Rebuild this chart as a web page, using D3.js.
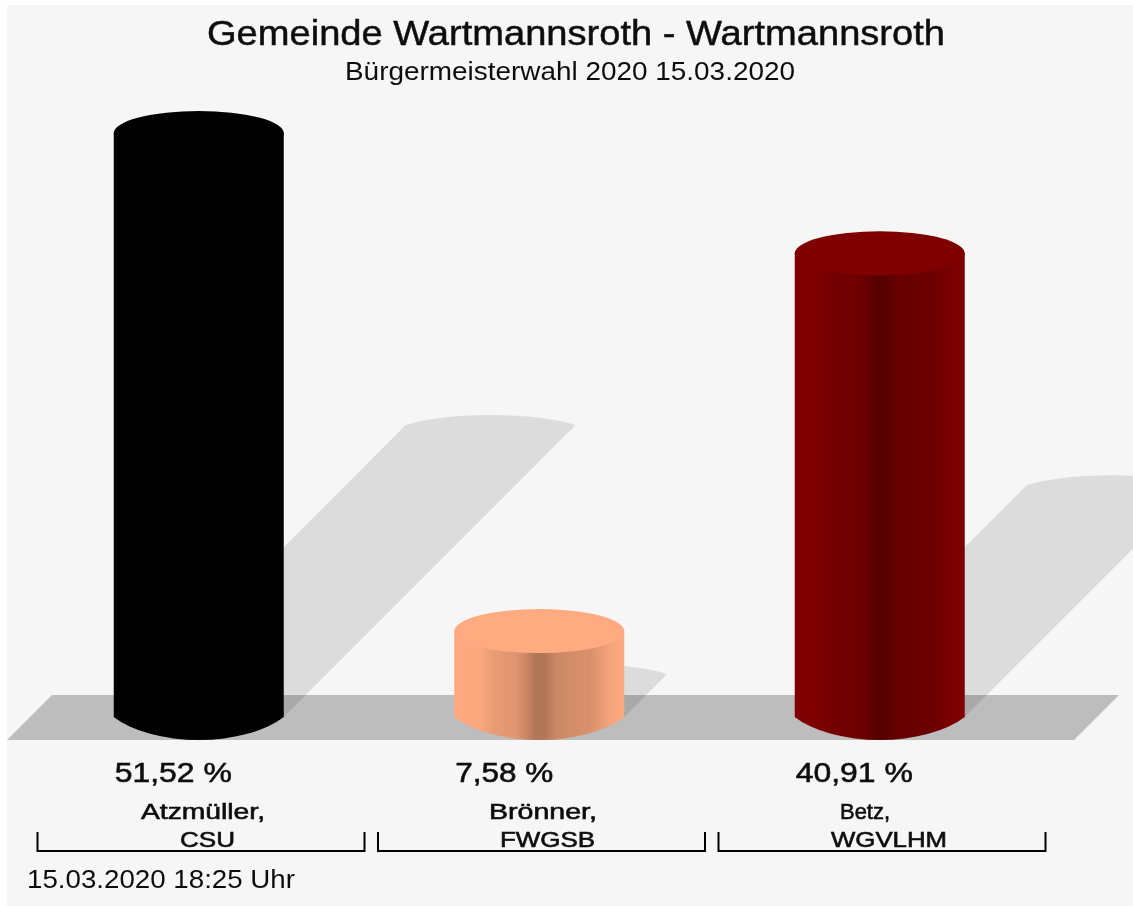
<!DOCTYPE html>
<html>
<head>
<meta charset="utf-8">
<script src="https://cdn.jsdelivr.net/npm/d3@7"></script>
<style>
  body { margin: 0; background: #fff; }
  text { font-family: "Liberation Sans", Arial, sans-serif; fill: #111; stroke: #111; }
</style>
</head>
<body>
<div id="vis"></div>
<script>
const FRAME_WIDTH = 1133;
const FRAME_HEIGHT = 906;

// data
const candidates = ["Atzmüller,", "Brönner,", "Betz,"];
const parties = ["CSU", "FWGSB", "WGVLHM"];
const shares = [51.52, 7.58, 40.91];
const colors = ["#000000", "#ffaa80", "#800000"];
const titleText = "Gemeinde Wartmannsroth - Wartmannsroth";
const subtitleText = "Bürgermeisterwahl 2020 15.03.2020";
const footerText = "15.03.2020 18:25 Uhr";

const BASE_Y = 717;
const BAR_WIDTH = 170;

const X_SCALE = d3.scaleBand()
                    .domain(candidates)
                    .range([28.5, 1050]);

const Y_SCALE = d3.scaleLinear()
                    .domain([0, 60])
                    .range([BASE_Y, 37]);

const barLeft = (d) => X_SCALE(d) + X_SCALE.bandwidth() / 2 - BAR_WIDTH / 2;

const FRAME = d3.select("#vis")
                  .append("svg")
                    .attr("width", FRAME_WIDTH)
                    .attr("height", FRAME_HEIGHT)
                    .style("display", "block");

FRAME.append("rect")
      .attr("x", 7).attr("y", 5)
      .attr("width", FRAME_WIDTH - 7).attr("height", FRAME_HEIGHT - 5)
      .attr("fill", "#f6f6f6");

// cylinder body shading, darkest just left of the middle
const defs = FRAME.append("defs");
const shadeStops = [[0, 0], [0.15, 0.02], [0.24, 0.09], [0.36, 0.12], [0.42, 0.2], [0.48, 0.31], [0.54, 0.3], [0.6, 0.2], [0.8, 0.15], [0.92, 0.04], [1, 0]];
colors.forEach((c, i) => {
  defs.append("linearGradient")
        .attr("id", "body" + i)
      .selectAll("stop")
      .data(shadeStops)
      .enter()
      .append("stop")
        .attr("offset", (d) => d[0])
        .attr("stop-color", (d) => d3.interpolateRgb(c, "#000")(d[1]));
});
defs.append("filter")
      .attr("id", "soft")
      .attr("filterUnits", "userSpaceOnUse")
      .attr("x", 0).attr("y", 0)
      .attr("width", FRAME_WIDTH).attr("height", FRAME_HEIGHT)
    .append("feGaussianBlur")
      .attr("stdDeviation", 0.6);

const CHART = FRAME.append("g").attr("filter", "url(#soft)");

// floor
CHART.append("path")
      .attr("d", "M7,740 L52,695 L1119,695 L1074,740 Z")
      .attr("fill", "#bdbdbd");

// shadows fall up and to the right, half the bar height
const shadowPath = (v, i) => {
  const x0 = barLeft(candidates[i]);
  const shift = (BASE_Y - Y_SCALE(v)) / 2;
  return `M${x0},${BASE_Y} L${x0 + shift},${BASE_Y - shift}
          A100,21 0 0 1 ${x0 + BAR_WIDTH + shift},${BASE_Y - shift}
          L${x0 + BAR_WIDTH},${BASE_Y} Z`;
};

CHART.selectAll(".shadow")
      .data(shares)
      .enter()
      .append("path")
        .attr("class", "shadow")
        .attr("d", shadowPath)
        .attr("fill", "#000")
        .attr("fill-opacity", 0.105);

// cylinders
CHART.selectAll(".bar")
      .data(shares)
      .enter()
      .append("path")
        .attr("class", "bar")
        .attr("d", (v, i) => {
          const x0 = barLeft(candidates[i]);
          return `M${x0},${Y_SCALE(v)} L${x0},${BASE_Y}
                  A100,48.6 0 0 0 ${x0 + BAR_WIDTH},${BASE_Y}
                  L${x0 + BAR_WIDTH},${Y_SCALE(v)} Z`;
        })
        .attr("fill", (v, i) => "url(#body" + i + ")");

CHART.selectAll(".top")
      .data(shares)
      .enter()
      .append("ellipse")
        .attr("class", "top")
        .attr("cx", (v, i) => barLeft(candidates[i]) + BAR_WIDTH / 2)
        .attr("cy", (v) => Y_SCALE(v))
        .attr("rx", BAR_WIDTH / 2)
        .attr("ry", 22)
        .attr("fill", (v, i) => colors[i]);

// brackets under each candidate
CHART.selectAll(".bracket")
      .data(candidates)
      .enter()
      .append("path")
        .attr("class", "bracket")
        .attr("d", (d) => {
          const x0 = X_SCALE(d) + 9;
          return `M${x0},832 L${x0},851 L${x0 + 327},851 L${x0 + 327},832`;
        })
        .attr("fill", "none")
        .attr("stroke", "#000")
        .attr("stroke-width", 2);

const addText = (s, x, y, size, len, thick) => {
  CHART.append("text")
        .attr("x", x)
        .attr("y", y)
        .attr("font-size", size)
        .attr("stroke-width", thick)
        .attr("textLength", len)
        .attr("lengthAdjust", "spacingAndGlyphs")
        .text(s);
};

const deFormat = d3.formatLocale({decimal: ",", thousands: ".", grouping: [3], currency: ["", " €"]}).format(".2f");

addText(titleText, 207, 45, 35, 738, 0.5);
addText(subtitleText, 345, 80, 25, 450, 0);
addText(footerText, 27, 888, 26, 268, 0);

const pctWidth = [117, 98, 117];
const nameX = [141, 489, 840];
const nameWidth = [124, 108, 50];
const partyX = [180, 500, 831];
const partyWidth = [55, 95, 116];

shares.forEach((v, i) => {
  addText(deFormat(v) + " %", barLeft(candidates[i]) + 1, 782, 28, pctWidth[i], 0.6);
  addText(candidates[i], nameX[i], 819, 22, nameWidth[i], 0.6);
  addText(parties[i], partyX[i], 847, 22, partyWidth[i], 0.6);
});
</script>
</body>
</html>
